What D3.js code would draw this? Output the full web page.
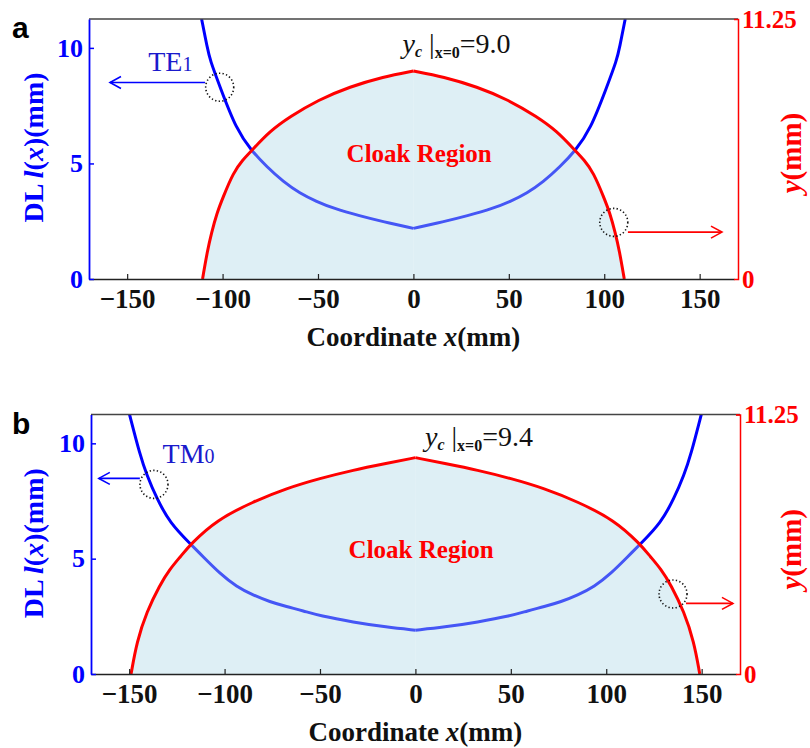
<!DOCTYPE html>
<html>
<head>
<meta charset="utf-8">
<script src="https://cdn.jsdelivr.net/npm/d3@7"></script>
<style>
  body { margin: 0; background: #fff; }
  svg { display: block; }
  text { font-family: "Liberation Serif", "Times New Roman", serif; }
</style>
</head>
<body>
<svg id="chart" width="810" height="748"></svg>
<script>
// ===================== DATA =====================
const xTicks = [-150, -100, -50, 0, 50, 100, 150];
const leftTicks = [0, 5, 10];
const rightTicks = [0, 11.25];

// panel a : TE1 mode
const teDLx = [-111, -108, -106.6, -101.4, -92.7, -84.8, -76.9, -68.2, -59.5, -50.7, -42, -28, -15.8, 0,
               15.8, 28, 42, 50.7, 59.5, 68.2, 76.9, 84.8, 92.7, 101.4, 106.6, 108, 111];
const teDL  = [11.25, 10.0, 9.48, 8.32, 6.45, 5.55, 4.86, 4.21, 3.71, 3.35, 3.06, 2.73, 2.48, 2.19,
               2.48, 2.73, 3.06, 3.35, 3.71, 4.21, 4.86, 5.55, 6.45, 8.32, 9.48, 10.0, 11.25];
const teCloakX = [-110.5, -108, -105.8, -103, -99.7, -94.4, -89.5, -84.8, -75.2, -64.7, -49.9, -33.3, -15.8, 0,
                  15.8, 33.3, 49.9, 64.7, 75.2, 84.8, 89.5, 94.4, 99.7, 103, 105.8, 108, 110.5];
const teCloakY = [0, 1.2, 2.0, 2.85, 3.55, 4.6, 5.15, 5.55, 6.4, 7.02, 7.75, 8.32, 8.75, 9.0,
                  8.75, 8.32, 7.75, 7.02, 6.4, 5.55, 5.15, 4.6, 3.55, 2.85, 2.0, 1.2, 0];

// panel b : TM0 mode
const tmDLx = [-149.8, -144.3, -140.8, -135.6, -128.7, -117.8, -111.2, -102.5, -93.7, -85, -76.3, -67.5, -58.8, -50, -32.6, -15.1, 0,
               15.1, 32.6, 50, 58.8, 67.5, 76.3, 85, 93.7, 102.5, 111.2, 117.8, 128.7, 135.6, 140.8, 144.3, 149.8];
const tmDL  = [11.25, 9.49, 8.63, 7.62, 6.55, 5.63, 5.08, 4.36, 3.78, 3.42, 3.13, 2.92, 2.74, 2.52, 2.25, 2.03, 1.9,
               2.03, 2.25, 2.52, 2.74, 2.92, 3.13, 3.42, 3.78, 4.36, 5.08, 5.63, 6.55, 7.62, 8.63, 9.49, 11.25];
const tmCloakX = [-149, -146, -140.8, -134, -128.7, -123, -117.8, -104.2, -85, -67.5, -50, -32.6, -15.1, 0,
                  15.1, 32.6, 50, 67.5, 85, 104.2, 117.8, 123, 128.7, 134, 140.8, 146, 149];
const tmCloakY = [0, 1.4, 2.7, 3.85, 4.55, 5.1, 5.63, 6.68, 7.47, 8.05, 8.48, 8.84, 9.13, 9.38,
                  9.13, 8.84, 8.48, 8.05, 7.47, 6.68, 5.63, 5.1, 4.55, 3.85, 2.7, 1.4, 0];

// markers: dotted circle [x, y] and arrow [y, x from, x to] in data units
const teMarkers = [{ c: [-101.5, 8.3], a: [8.5, -109.2, -159], color: "#0000ff" },
                   { c: [105, 2.45], a: [2.03, 112.4, 161.7], color: "#ff0000" }];
const tmMarkers = [{ c: [-137, 8.22], a: [8.48, -144.4, -165.9], color: "#0000ff" },
                   { c: [135, 3.47], a: [3.06, 141.8, 166.4], color: "#ff0000" }];

// ===================== CHART =====================
const svg = d3.select("#chart");
const BLUE = "#0000ff", RED = "#ff0000";
const SERIF = "'Liberation Serif', 'Times New Roman', serif";

const panels = [
  { tag: "a", left: 89, right: 734, top: 19, bottom: 279, mode: "TE", sub: "1", yc: "9.0",
    dlx: teDLx, dl: teDL, cx: teCloakX, cy: teCloakY, markers: teMarkers,
    modePos: [-139, 9.0], ycPos: [-5.7, 9.8], lTitle: -1.5, rTitle: 4 },
  { tag: "b", left: 91, right: 736, top: 414.5, bottom: 674, mode: "TM", sub: "0", yc: "9.4",
    dlx: tmDLx, dl: tmDL, cx: tmCloakX, cy: tmCloakY, markers: tmMarkers,
    modePos: [-132.5, 9.15], ycPos: [5, 9.9], lTitle: -1, rTitle: 5 }
];

function halves(xs, ys) {
  const pts = xs.map((x, i) => [x, ys[i]]);
  const mid = xs.indexOf(0);
  return [pts.slice(0, mid + 1), pts.slice(mid)];
}

panels.forEach((p, k) => {
  const x = d3.scaleLinear().domain([-170, 168]).range([p.left, p.right]);
  const y = d3.scaleLinear().domain([0, 11.25]).range([p.bottom, p.top]);
  const g = svg.append("g");

  const clipId = "clip" + k;
  g.append("clipPath").attr("id", clipId).append("rect")
    .attr("x", p.left).attr("y", p.top)
    .attr("width", p.right - p.left).attr("height", p.bottom - p.top);

  // read-off points are a bit noisy, so smooth them with a B-spline
  const line = d3.line().x(d => x(d[0])).y(d => y(d[1])).curve(d3.curveBasis);
  const area = d3.area().x(d => x(d[0])).y0(y(0)).y1(d => y(d[1])).curve(d3.curveBasis);

  const plot = g.append("g").attr("clip-path", `url(#${clipId})`);

  // DL curve
  halves(p.dlx, p.dl).forEach(h => {
    plot.append("path").attr("d", line(h))
      .attr("fill", "none").attr("stroke", BLUE).attr("stroke-width", 3);
  });
  // cloak region fill (over the blue curve, semi transparent)
  halves(p.cx, p.cy).forEach(h => {
    plot.append("path").attr("d", area(h))
      .attr("fill", "#add8e6").attr("fill-opacity", 0.4).attr("stroke", "none");
  });
  // cloak boundary
  halves(p.cx, p.cy).forEach(h => {
    plot.append("path").attr("d", line(h))
      .attr("fill", "none").attr("stroke", RED).attr("stroke-width", 3);
  });

  // top frame
  g.append("line")
    .attr("x1", p.left).attr("x2", p.right + 4)
    .attr("y1", p.top).attr("y2", p.top)
    .attr("stroke", "#444").attr("stroke-width", 1.3);

  // bottom axis
  const xAxis = g.append("g").attr("transform", `translate(0,${p.bottom})`)
    .call(d3.axisBottom(x).tickValues(xTicks).tickFormat(d3.format(""))
      .tickSizeInner(-5).tickSizeOuter(0).tickPadding(10));
  xAxis.attr("font-family", null);
  xAxis.select(".domain").attr("stroke", "#222").attr("stroke-width", 1.5);
  xAxis.selectAll(".tick line").attr("stroke", "#222").attr("stroke-width", 1.2);
  xAxis.selectAll("text").style("font-family", SERIF).attr("font-size", 27)
    .attr("font-weight", "bold").attr("fill", "#111");

  // left axis (DL)
  const yAxis = g.append("g").attr("transform", `translate(${p.left},0)`)
    .call(d3.axisLeft(y).tickValues(leftTicks).tickSizeInner(-5).tickSizeOuter(0).tickPadding(6));
  yAxis.attr("font-family", null);
  yAxis.select(".domain").attr("stroke", BLUE).attr("stroke-width", 1.8);
  yAxis.selectAll(".tick line").attr("stroke", BLUE).attr("stroke-width", 1.5);
  yAxis.selectAll("text").style("font-family", SERIF).attr("font-size", 26)
    .attr("font-weight", "bold").attr("fill", BLUE);

  // right axis (y)
  const rAxis = g.append("g").attr("transform", `translate(${p.right + 4},0)`)
    .call(d3.axisRight(y).tickValues(rightTicks).tickFormat(d => String(d))
      .tickSize(-4).tickPadding(4));
  rAxis.attr("font-family", null);
  rAxis.select(".domain").attr("stroke", RED).attr("stroke-width", 1.5);
  rAxis.selectAll(".tick line").attr("stroke", RED);
  rAxis.selectAll("text").style("font-family", SERIF).attr("font-size", 25)
    .attr("font-weight", "bold").attr("fill", RED);

  // panel tag
  g.append("text").attr("x", 12).attr("y", p.top + 19)
    .style("font-family", "'Liberation Sans', Arial, sans-serif")
    .attr("font-size", 30).attr("font-weight", "bold").attr("fill", "#000")
    .text(p.tag);

  // left axis title
  const ylab = g.append("text")
    .attr("transform", `translate(43,${(p.top + p.bottom) / 2 + p.lTitle}) rotate(-90)`)
    .attr("text-anchor", "middle").attr("font-size", 28).attr("font-weight", "bold")
    .attr("fill", BLUE);
  ylab.append("tspan").text("DL ");
  ylab.append("tspan").attr("font-style", "italic").text("l");
  ylab.append("tspan").text("(");
  ylab.append("tspan").attr("font-style", "italic").text("x");
  ylab.append("tspan").text(")(mm)");

  // right axis title
  const rlab = g.append("text")
    .attr("transform", `translate(801,${(p.top + p.bottom) / 2 + p.rTitle}) rotate(-90)`)
    .attr("text-anchor", "middle").attr("font-size", 29).attr("font-weight", "bold")
    .attr("fill", RED);
  rlab.append("tspan").attr("font-style", "italic").text("y");
  rlab.append("tspan").text("(mm)");

  // x title
  const xlab = g.append("text")
    .attr("x", x(0)).attr("y", p.bottom + 67)
    .attr("text-anchor", "middle").attr("font-size", 27).attr("font-weight", "bold")
    .attr("fill", "#111");
  xlab.append("tspan").text("Coordinate ");
  xlab.append("tspan").attr("font-style", "italic").text("x");
  xlab.append("tspan").text("(mm)");

  // Cloak Region label
  g.append("text").attr("x", x(-35)).attr("y", y(5.05))
    .attr("font-size", 25).attr("font-weight", "bold").attr("fill", RED)
    .text("Cloak Region");

  // mode label
  const ml = g.append("text").attr("x", x(p.modePos[0])).attr("y", y(p.modePos[1])).attr("fill", "#1a1acc");
  ml.append("tspan").attr("font-size", 28).text(p.mode);
  ml.append("tspan").attr("font-size", 20).text(p.sub);

  // y_c label
  const yl = g.append("text").attr("x", x(p.ycPos[0])).attr("y", y(p.ycPos[1]))
    .attr("fill", "#111").attr("font-size", 28);
  yl.append("tspan").attr("font-style", "italic").text("y");
  yl.append("tspan").attr("font-style", "italic").attr("font-weight", "bold")
    .attr("font-size", 16).attr("dy", 4).text("c");
  yl.append("tspan").attr("dy", -4).text(" |");
  yl.append("tspan").attr("font-weight", "bold").attr("font-size", 16).attr("dy", 5).text("x=0");
  yl.append("tspan").attr("dy", -5).text("=" + p.yc);

  // markers: dotted circles and arrows
  p.markers.forEach(m => {
    g.append("circle").attr("cx", x(m.c[0])).attr("cy", y(m.c[1])).attr("r", 14)
      .attr("fill", "none").attr("stroke", "#111").attr("stroke-width", 1.6)
      .attr("stroke-dasharray", "1.3,2.3");
    const ay = y(m.a[0]), x0 = x(m.a[1]), x1 = x(m.a[2]);
    const dir = x1 > x0 ? 1 : -1;
    g.append("line").attr("x1", x0).attr("x2", x1).attr("y1", ay).attr("y2", ay)
      .attr("stroke", m.color).attr("stroke-width", 1.6);
    g.append("polyline")
      .attr("points", `${x1 - dir * 11},${ay - 6} ${x1},${ay} ${x1 - dir * 11},${ay + 6}`)
      .attr("fill", "none").attr("stroke", m.color).attr("stroke-width", 1.6);
  });
});
</script>
</body>
</html>
